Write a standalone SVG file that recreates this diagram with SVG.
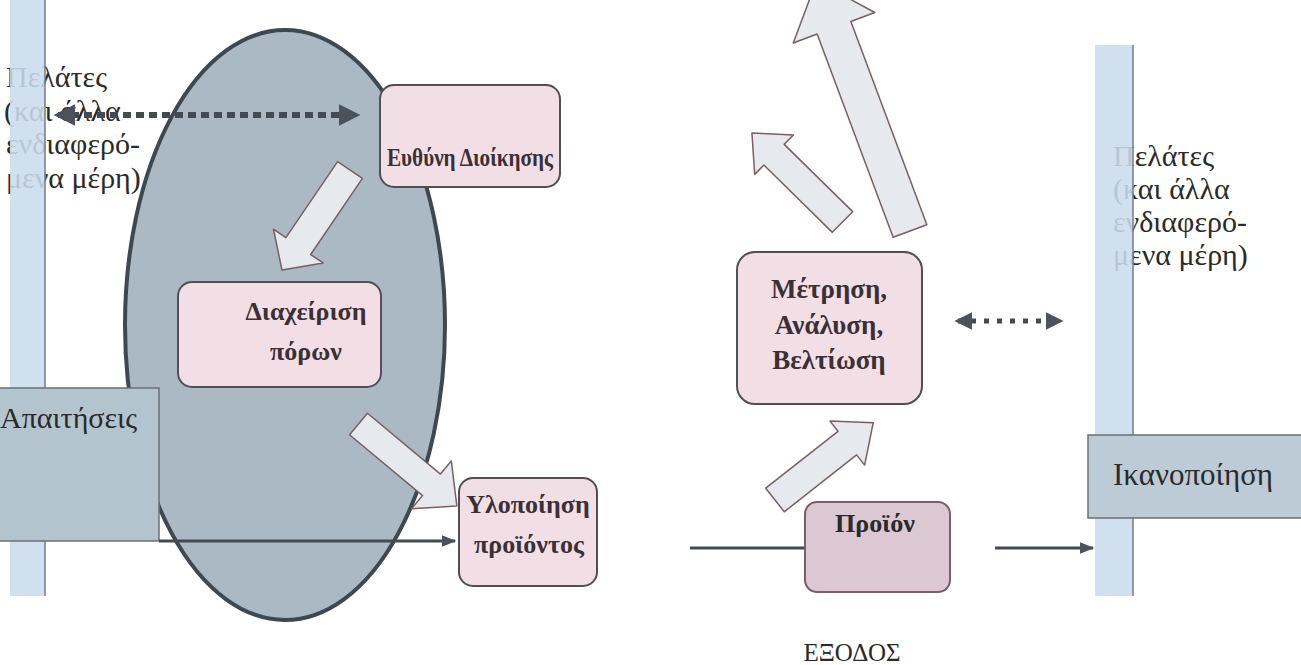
<svg xmlns="http://www.w3.org/2000/svg" width="1301" height="665" viewBox="0 0 1301 665">
<defs>
<style>
.lbl{font-family:"Liberation Serif","DejaVu Serif",serif;fill:#2a2a2a}
.bold{font-family:"Liberation Serif","DejaVu Serif",serif;font-weight:bold;fill:#3a3035;text-anchor:middle}
.box{fill:#f2dfe5;stroke:#4f4f55;stroke-width:2}
.bar{fill:#cbdcec;fill-opacity:0.88;stroke:none}
.blk{fill:#e6eaef;stroke:#7a5f60;stroke-width:1.5;stroke-linejoin:round}
.conn{stroke:#444a52;fill:none}
</style>
<marker id="ah" viewBox="0 0 10 10" refX="8" refY="5" markerWidth="3.6" markerHeight="3.6" orient="auto-start-reverse" markerUnits="strokeWidth"><path d="M0,0 L10,5 L0,10 Z" fill="#4a525c"/></marker>
<marker id="ah3" viewBox="0 0 10 10" refX="9" refY="5" markerWidth="5" markerHeight="5" orient="auto-start-reverse" markerUnits="strokeWidth"><path d="M0,1 L10,5 L0,9 Z" fill="#4a525c"/></marker>
</defs>
<rect width="1301" height="665" fill="#ffffff"/>

<g id="ellipse">
<ellipse cx="285" cy="325" rx="160" ry="295" fill="#aab9c4" stroke="#3e4850" stroke-width="4"/>
</g>

<g id="left-customers">
<text class="lbl" font-size="30"><tspan x="6" y="87">Πελάτες</tspan><tspan x="4" y="121">(και άλλα</tspan><tspan x="6" y="154">ενδιαφερό-</tspan><tspan x="6" y="188">μενα μέρη)</tspan></text>
<rect class="bar" x="10" y="-2" width="35" height="598"/>
<line x1="45" y1="0" x2="45" y2="596" stroke="#6f7c88" stroke-width="1.5"/>
</g>

<g id="requirements">
<rect x="-2" y="388" width="161" height="153" fill="#b4c4ce" stroke="#6a7076" stroke-width="1.5"/>
<text class="lbl" x="0" y="428" font-size="30" fill="#3a3a3a">Απαιτήσεις</text>
</g>

<g id="right-customers">
<text class="lbl" font-size="30"><tspan x="1113" y="166">Πελάτες</tspan><tspan x="1113" y="199">(και άλλα</tspan><tspan x="1113" y="232">ενδιαφερό-</tspan><tspan x="1113" y="265">μενα μέρη)</tspan></text>
<rect class="bar" x="1095" y="45" width="38" height="551"/>
<line x1="1133" y1="45" x2="1133" y2="596" stroke="#6f7c88" stroke-width="1.5"/>
</g>

<g id="satisfaction">
<rect x="1088" y="435" width="215" height="83" fill="#bccbd5" stroke="#6a7076" stroke-width="1.5"/>
<text class="lbl" x="1113" y="485" font-size="31" fill="#3a3a3a">Ικανοποίηση</text>
</g>

<g id="connectors">
<line class="conn" x1="58" y1="115" x2="356" y2="115" stroke="#4a525c" stroke-width="6" stroke-dasharray="8 5" marker-start="url(#ah)" marker-end="url(#ah)"/>
<line class="conn" x1="958" y1="321" x2="1060" y2="321" stroke="#4a525c" stroke-width="5" stroke-dasharray="5 8" marker-start="url(#ah)" marker-end="url(#ah)"/>
<line class="conn" x1="159" y1="541" x2="455" y2="541" stroke="#444a52" stroke-width="3" marker-end="url(#ah3)"/>
<line class="conn" x1="690" y1="548" x2="805" y2="548" stroke="#3c3f44" stroke-width="3"/>
<line class="conn" x1="995" y1="548" x2="1093" y2="548" stroke="#6a6e74" stroke-width="3" marker-end="url(#ah3)"/>
<path class="blk" transform="translate(350,170) rotate(124.2)" d="M0,-15 L92,-15 L92,-30 L121,0 L92,30 L92,15 L0,15 Z"/>
<path class="blk" transform="translate(358.5,424) rotate(39.8)" d="M0,-14 L95,-14 L95,-31 L128,0 L95,31 L95,14 L0,14 Z"/>
<path class="blk" transform="translate(775,500) rotate(-38.2)" d="M0,-15 L92,-15 L92,-28 L125,0 L92,28 L92,15 L0,15 Z" fill="#e9edf1" stroke="none"/>
<path class="blk" transform="translate(842.5,222) rotate(-135.5)" d="M0,-14.5 L96,-14.5 L96,-27.6 L127,0 L96,27.6 L96,14.5 L0,14.5 Z"/>
<path class="blk" transform="translate(910,231) rotate(-110.5)" d="M0,-18 L217,-18 L217,-43.5 L267,0 L217,43.5 L217,18 L0,18 Z"/>
</g>

<g id="management">
<rect class="box" x="380" y="85" width="180" height="102" rx="14"/>
<text class="bold" x="470" y="166" font-size="26" textLength="166" lengthAdjust="spacingAndGlyphs">Ευθύνη Διοίκησης</text>
</g>

<g id="resources">
<rect class="box" x="178" y="282" width="203" height="105" rx="14"/>
<text class="bold" x="306" y="320" font-size="26">Διαχείριση</text>
<text class="bold" x="306" y="360" font-size="26">πόρων</text>
</g>

<g id="realization">
<rect class="box" x="459" y="478" width="138" height="108" rx="14" fill="#f6e8ef"/>
<text class="bold" x="528" y="513" font-size="26">Υλοποίηση</text>
<text class="bold" x="529" y="553" font-size="26">προϊόντος</text>
</g>

<g id="measurement">
<rect class="box" x="737" y="252" width="185" height="152" rx="18" fill="#efd9e2"/>
<text class="bold" x="829" y="298" font-size="27">Μέτρηση,</text>
<text class="bold" x="829" y="334" font-size="27">Ανάλυση,</text>
<text class="bold" x="829" y="369" font-size="27">Βελτίωση</text>
</g>

<g id="product">
<rect x="805" y="502" width="145" height="90" rx="12" fill="#dcc8d2" stroke="#7b5d6c" stroke-width="2"/>
<text class="lbl" x="875" y="532" font-size="26" font-weight="bold" text-anchor="middle" fill="#9a8894">Προϊόν</text>
</g>

<g id="output">
<text class="lbl" x="852" y="661" font-size="25" text-anchor="middle" fill="#333">ΕΞΟΔΟΣ</text>
</g>
</svg>
